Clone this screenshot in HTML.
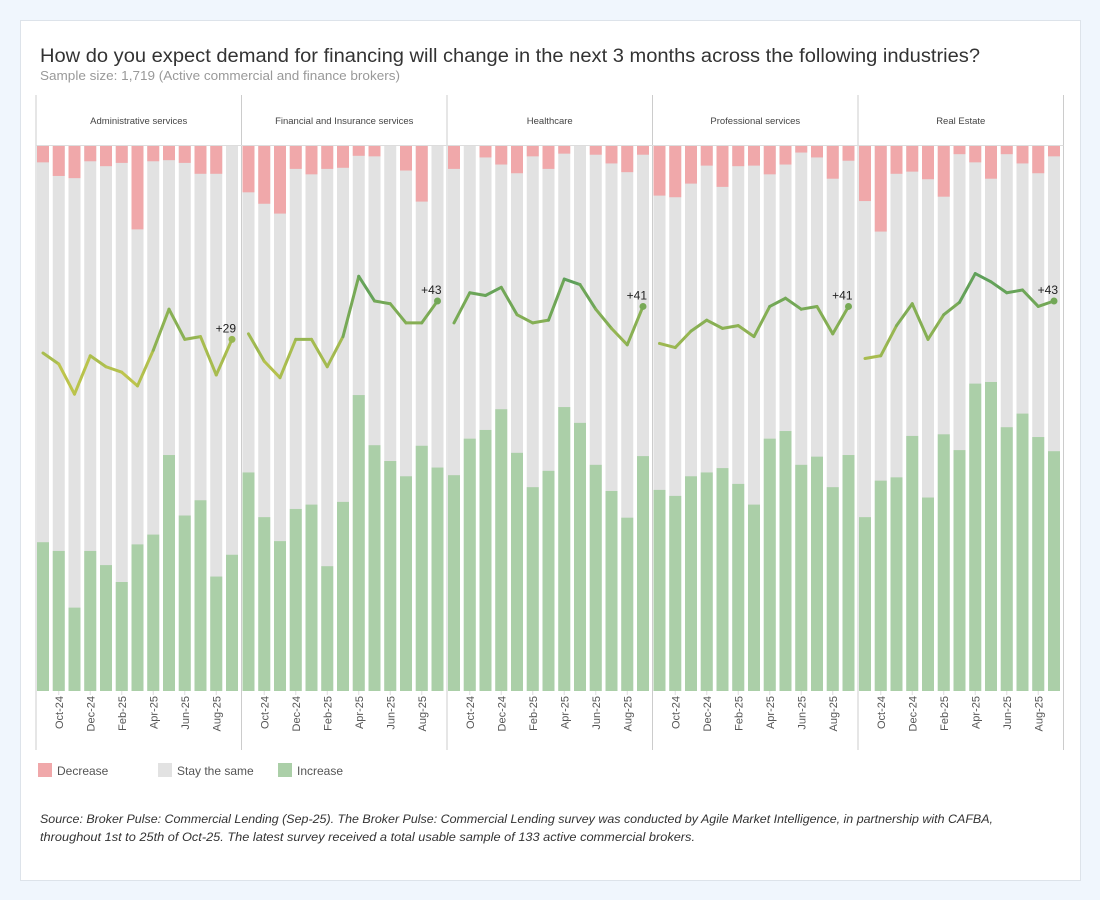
<!DOCTYPE html>
<html><head><meta charset="utf-8"><style>
body{margin:0;width:1100px;height:900px;background:#f0f6fd;font-family:"Liberation Sans",sans-serif;overflow:hidden}
#card{position:absolute;left:20px;top:20px;width:1059px;height:859px;background:#fff;border:1px solid #dde3ea}
</style></head><body>
<div id="card"></div>
<svg id="chart" width="1100" height="900" style="position:absolute;left:0;top:0">
<text x="40" y="62" font-size="19" fill="#333" textLength="940" lengthAdjust="spacingAndGlyphs">How do you expect demand for financing will change in the next 3 months across the following industries?</text>
<text x="40" y="80" font-size="13" fill="#999" textLength="360" lengthAdjust="spacingAndGlyphs">Sample size: 1,719 (Active commercial and finance brokers)</text>
<g id="panels"></g>
<g>
<rect x="38" y="763" width="14" height="14" fill="#f0a8aa"/>
<text x="57" y="775" font-size="12" fill="#555">Decrease</text>
<rect x="158" y="763" width="14" height="14" fill="#e2e2e2"/>
<text x="177" y="775" font-size="12" fill="#555">Stay the same</text>
<rect x="278" y="763" width="14" height="14" fill="#abcfa8"/>
<text x="297" y="775" font-size="12" fill="#555">Increase</text>
</g>
<text font-size="11.5" font-style="italic" fill="#333"><tspan x="40" y="823" textLength="953" lengthAdjust="spacingAndGlyphs">Source: Broker Pulse: Commercial Lending (Sep-25). The Broker Pulse: Commercial Lending survey was conducted by Agile Market Intelligence, in partnership with CAFBA,</tspan><tspan x="40" y="841" textLength="655" lengthAdjust="spacingAndGlyphs">throughout 1st to 25th of Oct-25. The latest survey received a total usable sample of  133 active commercial brokers.</tspan></text>
</svg>
<script>
const industries=["Administrative services","Financial and Insurance services","Healthcare","Professional services","Real Estate"];
const months=["Sep-24","Oct-24","Nov-24","Dec-24","Jan-25","Feb-25","Mar-25","Apr-25","May-25","Jun-25","Jul-25","Aug-25","Sep-25"];
const tickLabels=["Oct-24","Dec-24","Feb-25","Apr-25","Jun-25","Aug-25"];
const decAdmin=[3.0,5.5,5.9,2.8,3.7,3.1,15.3,2.8,2.6,3.1,5.1,5.1,0];
const incAdmin=[27.3,25.7,15.3,25.7,23.1,20.0,26.9,28.7,43.3,32.2,35.0,21.0,25.0];
const netAdmin=[24,20,9,23,19,17,12,25,40,29,30,16,29];
const decFin=[8.5,10.6,12.4,4.2,5.2,4.2,4.0,1.8,1.9,0,4.5,10.2,0];
const incFin=[40.1,31.9,27.5,33.4,34.2,22.9,34.7,54.3,45.1,42.2,39.4,45.0,41.0];
const netFin=[31,21,15,29,29,19,30,52,43,42,35,35,43];
const decHealth=[4.2,0,2.1,3.4,5.0,1.9,4.2,1.4,0,1.6,3.2,4.8,1.6];
const incHealth=[39.6,46.3,47.9,51.7,43.7,37.4,40.4,52.1,49.2,41.5,36.7,31.8,43.1];
const netHealth=[35,46,45,48,38,35,36,51,49,40,33,27,41];
const decProf=[9.1,9.4,6.9,3.6,7.5,3.7,3.6,5.2,3.4,1.2,2.1,6.0,2.7];
const incProf=[36.9,35.8,39.4,40.1,40.9,38.0,34.2,46.3,47.7,41.5,43.0,37.4,43.3];
const netProf=[27.5,26,32,36,33,34,30,41,44,40,41,31,41];
const decReal=[10.1,15.7,5.1,4.7,6.1,9.3,1.5,3.0,6.0,1.5,3.2,5.0,1.9];
const incReal=[31.9,38.6,39.2,46.8,35.5,47.1,44.2,56.4,56.7,48.4,50.9,46.6,44.0];
const netReal=[22,23,34,42,29,38,42.5,53,50,46,47,41,43];
const decSeries=[decAdmin,decFin,decHealth,decProf,decReal];
const incSeries=[incAdmin,incFin,incHealth,incProf,incReal];
const netSeries=[netAdmin,netFin,netHealth,netProf,netReal];

const NS="http://www.w3.org/2000/svg";
const g=document.getElementById('panels');
const X0=36,PW=205.5,TOP=146,BOT=691,HDR=95,AXB=750;
const H=BOT-TOP;
function yPct(p){return TOP+p/100*H;}
function yNet(v){return 418.8-2.74*v;}
function xBar(pi,i){return X0+pi*PW+1+i*15.75;}
function mk(tag,attrs){const e=document.createElementNS(NS,tag);for(const k in attrs)e.setAttribute(k,attrs[k]);g.appendChild(e);return e;}
function lineColor(v){const t=Math.max(0,Math.min(1,(v-10)/40));
 const a=[201,201,74],b=[95,160,90];return `rgb(${a.map((c,i)=>Math.round(c+(b[i]-c)*t)).join(',')})`;}
let e=mk('line',{x1:X0,y1:HDR,x2:X0,y2:AXB,stroke:'#ccc'});


industries.forEach((name,pi)=>{
  const px=X0+pi*PW;
  let d=mk('line',{x1:px+PW,y1:HDR,x2:px+PW,y2:AXB,stroke:'#ccc'});
  
  
  let hl=mk('line',{x1:px,y1:TOP-0.5,x2:px+PW,y2:TOP-0.5,stroke:'#ddd'});
  
  
  let t=mk('text',{x:px+PW/2,y:124,'font-size':'9.5','text-anchor':'middle',fill:'#444'});
  t.textContent=name;
  
  
  const dec=decSeries[pi],inc=incSeries[pi],net=netSeries[pi];
  months.forEach((m,i)=>{
    const x=xBar(pi,i);
    let r=mk('rect',{x:x,y:TOP,width:12,height:H,fill:'#e2e2e2'});
    
    
    r=mk('rect',{x:x,y:TOP,width:12,height:yPct(dec[i])-TOP,fill:'#f0a8aa'});
    
    
    const yi=BOT-inc[i]/100*H;
    r=mk('rect',{x:x,y:yi,width:12,height:BOT-yi,fill:'#abcfa8'});
    
    
  });
  months.forEach((m,i)=>{
    if(i===0)return;
    const s=mk('line',{x1:xBar(pi,i-1)+6,y1:yNet(net[i-1]),x2:xBar(pi,i)+6,y2:yNet(net[i]),stroke:lineColor((net[i-1]+net[i])/2),'stroke-width':3,'stroke-linecap':'round'});
    
    
  });
  const last=net.length-1;
  let c=mk('circle',{cx:xBar(pi,last)+6,cy:yNet(net[last]),r:3.5,fill:lineColor(net[last])});
  
  
  let lb=mk('text',{x:xBar(pi,last)+10,y:yNet(net[last])-7,'font-size':'12','text-anchor':'end',fill:'#222'});
  lb.textContent='+'+Math.round(net[last]);
  
  
  tickLabels.forEach((tl,k)=>{
    const i=months.indexOf(tl);
    const cx=xBar(pi,i)+6;
    let tk=mk('line',{x1:cx,y1:BOT,x2:cx,y2:BOT+4,stroke:'#ddd'});
    
    
    let tt=mk('text',{x:0,y:0,'font-size':'11','text-anchor':'end',fill:'#555',transform:`translate(${cx+4},696) rotate(-90)`});
    tt.textContent=tl;
    
    
  });
});
</script>
</body></html>
